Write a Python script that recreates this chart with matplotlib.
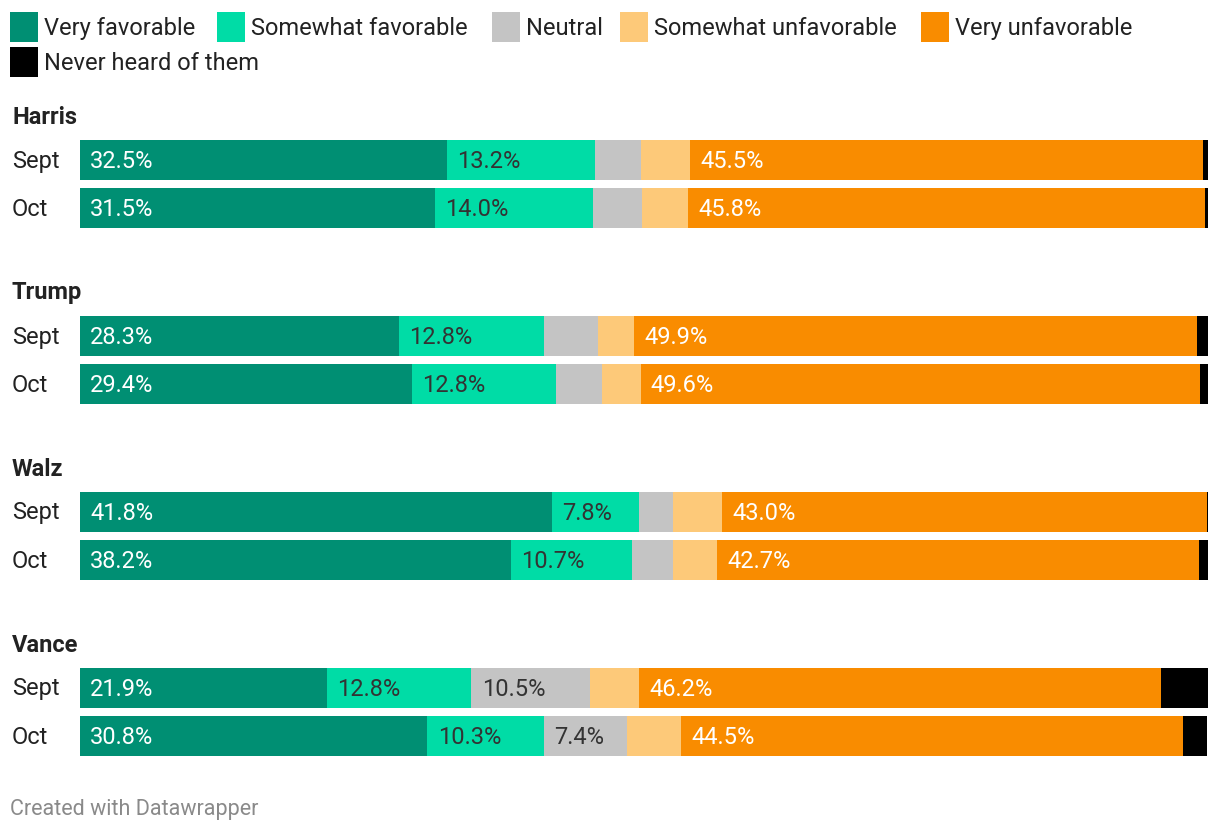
import matplotlib
matplotlib.use("Agg")
import matplotlib.pyplot as plt
from matplotlib.patches import Rectangle
import numpy as np

plt.rcParams['font.family'] = ['Roboto', 'DejaVu Sans']

candidates = ['Harris', 'Trump', 'Walz', 'Vance']
waves = ['Sept', 'Oct']
categories = ['Very favorable', 'Somewhat favorable', 'Neutral',
              'Somewhat unfavorable', 'Very unfavorable', 'Never heard of them']
colors = ['#008f73', '#00dca6', '#c4c4c4', '#fdc979', '#f98c00', '#000000']
text_colors = ['white', '#333333', '#333333', '#333333', 'white', 'white']

# rows: Harris Sept, Harris Oct, Trump Sept, ... (percent)
very_fav = [32.5, 31.5, 28.3, 29.4, 41.8, 38.2, 21.9, 30.8]
some_fav = [13.2, 14.0, 12.8, 12.8, 7.8, 10.7, 12.8, 10.3]
neutral = [4.0, 4.3, 4.8, 4.1, 3.0, 3.7, 10.5, 7.4]
some_unfav = [4.4, 4.1, 3.2, 3.4, 4.3, 3.9, 4.4, 4.8]
very_unfav = [45.5, 45.8, 49.9, 49.6, 43.0, 42.7, 46.2, 44.5]
never_heard = [0.4, 0.3, 1.1, 0.7, 0.2, 0.8, 4.3, 2.1]

series = [very_fav, some_fav, neutral, some_unfav, very_unfav, never_heard]

W, H = 1220, 834
fig = plt.figure(figsize=(W / 100, H / 100), dpi=100)

# overlay in pixel coords for legend / labels
bg = fig.add_axes([0, 0, 1, 1])
bg.set_xlim(0, W)
bg.set_ylim(H, 0)
bg.axis('off')

# bars axes
x0, x1 = 80, 1208
ax = fig.add_axes([x0 / W, 0, (x1 - x0) / W, 1])
ax.set_xlim(0, 100)
ax.set_ylim(H, 0)
ax.axis('off')

group_top = 116
group_step = 176
bar_h = 40
row_step = 48

fs = 17
legend_x = [10, 217, 492, 620, 921, 10]
legend_y = [27, 27, 27, 27, 27, 62]
for i, cat in enumerate(categories):
    bg.add_patch(Rectangle((legend_x[i], legend_y[i] - 15), 28, 30,
                           facecolor=colors[i], edgecolor='none'))
    bg.text(legend_x[i] + 34, legend_y[i] + 1, cat, fontsize=fs, color='#222222',
            va='center', ha='left')

for g, name in enumerate(candidates):
    ty = group_top + g * group_step
    bg.text(12, ty + 1, name, fontsize=fs, fontweight='bold', color='#222222',
            va='center', ha='left')
    for w, wave in enumerate(waves):
        r = g * 2 + w
        yc = ty + 44 + w * row_step
        bg.text(12, yc + 1, wave, fontsize=fs, color='#222222', va='center', ha='left')
        left = 0.0
        for s, vals in enumerate(series):
            v = vals[r]
            ax.barh(yc, v, left=left, height=bar_h, color=colors[s],
                    edgecolor='none')
            if v >= 6:
                ax.text(left + 0.9, yc + 1, f'{v:.1f}%', fontsize=fs,
                        color=text_colors[s], va='center', ha='left')
            left += v

bg.text(10, 810, 'Created with Datawrapper', fontsize=15.5, color='#8a8a8a',
        va='center', ha='left')

fig.savefig('out.png', dpi=100)
